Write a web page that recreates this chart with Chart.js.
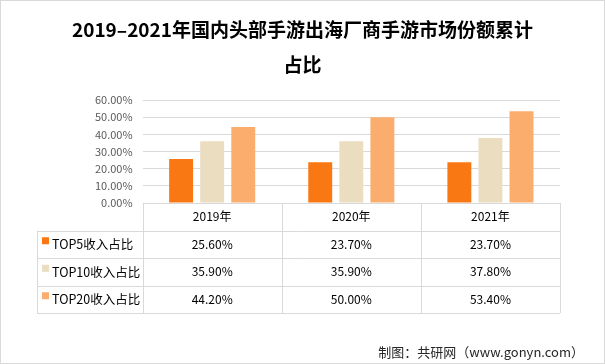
<!DOCTYPE html>
<html lang="zh">
<head>
    <meta charset="UTF-8">
    <title>2019–2021年国内头部手游出海厂商手游市场份额累计占比</title>
    <script src="https://cdn.jsdelivr.net/npm/chart.js"></script>
    <style>
        html, body { margin: 0; padding: 0; background: #fff; }
        #wrap { position: relative; width: 605px; height: 364px; }
        #chartTitle {
            position: absolute;
            left: 0;
            top: 11px;
            width: 605px;
            text-align: center;
            font-family: "Noto Sans CJK SC", "Noto Sans", sans-serif;
            font-weight: bold;
            font-size: 19px;
            line-height: 35px;
            color: #000;
        }
    </style>
</head>
<body>
    <div id="wrap">
        <canvas id="shareChart" width="605" height="364"></canvas>
        <div id="chartTitle"></div>
    </div>

    <script>
        // data
        const years = ['2019年', '2020年', '2021年'];
        const seriesNames = ['TOP5收入占比', 'TOP10收入占比', 'TOP20收入占比'];
        const top5 = [25.6, 23.7, 23.7];
        const top10 = [35.9, 35.9, 37.8];
        const top20 = [44.2, 50.0, 53.4];
        const colors = ['#FA7814', '#EADDC0', '#FBAD6E'];
        const titleLines = ['2019–2021年国内头部手游出海厂商手游市场份额累计', '占比'];
        const sourceNote = '制图：共研网（www.gonyn.com）';

        const fontFamily = '"Noto Sans CJK SC", "Noto Sans", sans-serif';
        const allSeries = [top5, top10, top20];

        document.getElementById('chartTitle').innerHTML = titleLines.join('<br>');

        // draws the data table under the bars, plus page border and source line
        const tablePlugin = {
            id: 'dataTable',
            afterDraw(chart) {
                const ctx = chart.ctx;
                const a = chart.chartArea;
                const colW = a.width / years.length;
                const rowH = 27.5;
                const top = a.bottom;
                const leftX = 37;
                const bottom = top + rowH * 4;

                ctx.save();
                ctx.strokeStyle = '#d9d9d9';
                ctx.lineWidth = 1;
                ctx.beginPath();
                // header top line
                ctx.moveTo(a.left, Math.round(top) + 0.5);
                ctx.lineTo(a.right, Math.round(top) + 0.5);
                for (let i = 1; i <= 4; i++) {
                    const y = Math.round(top + rowH * i) + 0.5;
                    ctx.moveTo(leftX, y);
                    ctx.lineTo(a.right, y);
                }
                for (let j = 0; j <= years.length; j++) {
                    const x = Math.round(a.left + colW * j) + 0.5;
                    ctx.moveTo(x, top);
                    ctx.lineTo(x, bottom);
                }
                ctx.moveTo(leftX + 0.5, top + rowH);
                ctx.lineTo(leftX + 0.5, bottom);
                ctx.stroke();

                ctx.fillStyle = '#000';
                ctx.textBaseline = 'middle';
                ctx.textAlign = 'center';
                ctx.font = '12px ' + fontFamily;
                years.forEach((y, j) => {
                    ctx.fillText(y, a.left + colW * (j + 0.5), top + rowH / 2);
                });

                allSeries.forEach((vals, i) => {
                    const cy = top + rowH * (i + 1.5);
                    ctx.fillStyle = colors[i];
                    ctx.fillRect(42, cy - 7, 7, 7);
                    ctx.fillStyle = '#000';
                    ctx.textAlign = 'left';
                    ctx.font = '12.5px ' + fontFamily;
                    ctx.fillText(seriesNames[i], 52, cy);
                    ctx.textAlign = 'center';
                    ctx.font = '12px ' + fontFamily;
                    vals.forEach((v, j) => {
                        ctx.fillText(v.toFixed(2) + '%', a.left + colW * (j + 0.5), cy);
                    });
                });

                // source line
                ctx.textAlign = 'right';
                ctx.fillStyle = '#262626';
                ctx.font = '13px ' + fontFamily;
                ctx.fillText(sourceNote, 584, 352);

                // outer border
                ctx.strokeStyle = '#d9d9d9';
                ctx.strokeRect(0.5, 0.5, chart.width - 1, chart.height - 1);
                ctx.restore();
            }
        };

        const ctx = document.getElementById('shareChart').getContext('2d');
        const chart = new Chart(ctx, {
            type: 'bar',
            data: {
                labels: years,
                datasets: allSeries.map((vals, i) => ({
                    label: seriesNames[i],
                    data: vals,
                    backgroundColor: colors[i],
                    categoryPercentage: 0.67,
                    barPercentage: 0.77
                }))
            },
            options: {
                responsive: false,
                animation: false,
                layout: {
                    padding: { left: 85, right: 45, top: 100, bottom: 161 }
                },
                plugins: {
                    legend: { display: false },
                    tooltip: { enabled: false },
                    title: { display: false }
                },
                scales: {
                    x: { display: false },
                    y: {
                        min: 0,
                        max: 60,
                        ticks: {
                            stepSize: 10,
                            padding: 10,
                            color: '#595959',
                            font: { family: fontFamily, size: 11 },
                            callback: v => v.toFixed(2) + '%'
                        },
                        grid: { color: '#d9d9d9', drawTicks: false },
                        border: { display: false }
                    }
                }
            },
            plugins: [tablePlugin]
        });
    </script>
</body>
</html>
